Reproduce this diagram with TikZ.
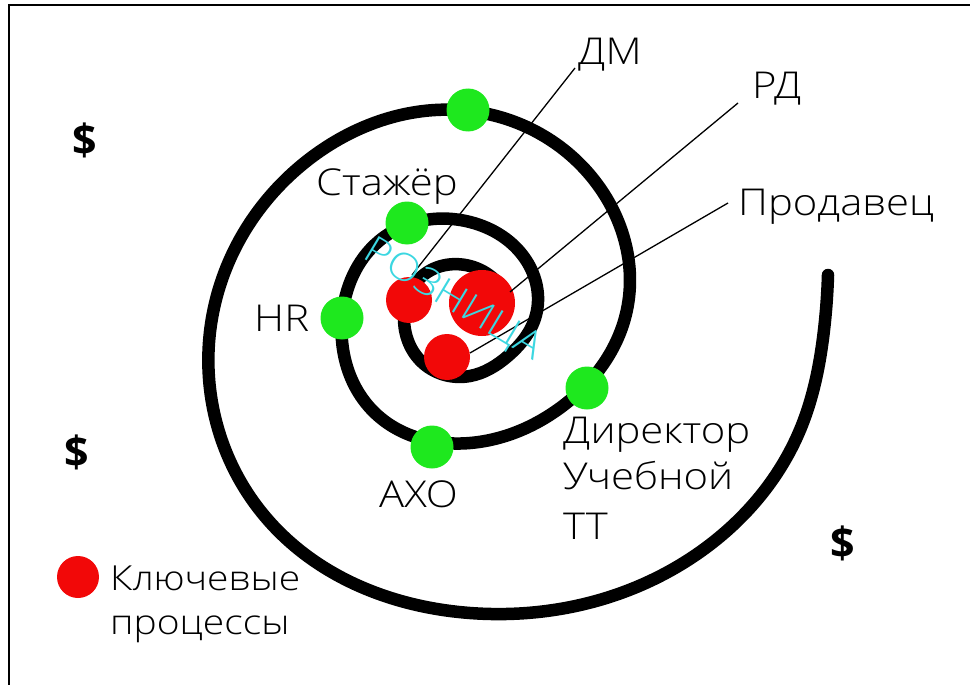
\documentclass[tikz,border=0pt]{standalone}
\usepackage{fontspec}
\usetikzlibrary{hobby}
\setmainfont{Open Sans Light}[FakeStretch=1.13]
\newfontfamily\heavyfont{Open Sans}
\definecolor{dotgreen}{RGB}{30,232,30}
\definecolor{dotred}{RGB}{242,8,8}
\definecolor{cyanword}{RGB}{60,215,225}

\begin{document}
\begin{tikzpicture}[x=1pt,y=-1pt,
  gdot/.style={circle,fill=dotgreen,inner sep=0pt,minimum size=43pt},
  rdot/.style={circle,fill=dotred,inner sep=0pt,minimum size=#1},
  lbl/.style={anchor=base west,inner sep=0pt,font=\fontsize{37}{40}\selectfont},
  leglbl/.style={anchor=base west,inner sep=0pt,font=\fontsize{34.5}{36}\selectfont},
  leader/.style={line width=1.3pt},
  dollar/.style={inner sep=0pt,font=\heavyfont\bfseries\fontsize{43}{45}\selectfont},
  spiralline/.style={line width=12.5pt,line cap=round,line join=round}]
\useasboundingbox (0,0) rectangle (970,685);

% frame on the top and left edges
\draw[line width=1.5pt] (9,685) -- (9,5) -- (970,5);

% the spiral, from its outer tail inwards
\draw[spiralline,use Hobby shortcut]
  (828,275) .. (824,330) .. (800,430) .. (700,552) .. (470,613)
  .. (268,520) .. (212,318) .. (308,160) .. (470,111) .. (600,188)
  .. (626,314) .. (560,408) .. (470,443) .. (375,413) .. (342,318)
  .. (379,241) .. (470,222) .. (526,260) .. (536,315) .. (508,356)
  .. (470,376) .. (424,364) .. (404,318) .. (420,278) .. (470,266)
  .. (495,280);

% green points on the spiral
\node[gdot] (gtop) at (468,110) {};
\node[gdot] (gintern) at (407,223) {};
\node[gdot] (ghr) at (342,318) {};
\node[gdot] (gaxo) at (432,447) {};
\node[gdot] (gdir) at (587,388) {};

% red key processes in the centre
\node[rdot=66pt] (rbig) at (482,303) {};
\node[rdot=46pt] (rleft) at (409,300) {};
\node[rdot=46pt] (rlow) at (447,357) {};

% labels
\node[lbl] (dm) at (578,65) {ДМ};
\node[lbl] (rd) at (752,99) {РД};
\node[lbl] (seller) at (738,215) {Продавец};
\node[lbl] (intern) at (316,195) {Стажёр};
\node[lbl] (hr) at (254,331) {HR};
\node[lbl] (axo) at (379,507) {АХО};
\node[lbl] (dir1) at (563,443) {Директор};
\node[lbl] (dir2) at (563,489) {Учебной};
\node[lbl] (dir3) at (563,539) {ТТ};

% leader lines
\coordinate (dmfoot) at (412,275);
\coordinate (dmtip) at (575,68);
\coordinate (rdfoot) at (510,292);
\coordinate (rdtip) at (738,103);
\coordinate (sellerfoot) at (470,353);
\coordinate (sellertip) at (728,203);
\draw[leader] (dmfoot) -- (dmtip);
\draw[leader] (rdfoot) -- (rdtip);
\draw[leader] (sellerfoot) -- (sellertip);

% sector name across the centre
\node[text=cyanword,inner sep=0pt,rotate=-31,font=\fontsize{38}{40}\selectfont] (retail) at (453,300) {РОЗНИЦА};

% money signs
\node[dollar] (d1) at (85,140) {\$};
\node[dollar] (d2) at (77,452) {\$};
\node[dollar] (d3) at (843,543) {\$};

% legend
\node[rdot=42pt] (legdot) at (78,577) {};
\node[leglbl] (leg1) at (110,590) {Ключевые};
\node[leglbl] (leg2) at (110,634) {процессы};
\end{tikzpicture}
\end{document}
